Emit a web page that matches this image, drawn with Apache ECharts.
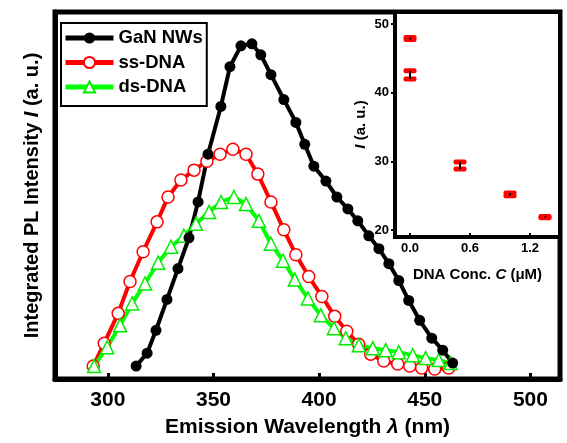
<!DOCTYPE html>
<html>
<head>
<meta charset="utf-8">
<script src="https://cdn.jsdelivr.net/npm/echarts@6/dist/echarts.min.js"></script>
<style>
  html, body { margin: 0; padding: 0; background: #fff; }
  #chart { width: 567px; height: 443px; }
</style>
</head>
<body>
<div id="chart"></div>
<script>
// PL spectra (wavelength in nm, intensity in a.u.)
const wlGaN = [313.4, 318.6, 322.8, 328.0, 333.2, 338.4, 342.7, 347.4, 353.5, 357.8, 363.0, 368.2, 372.4, 377.2, 383.3, 389.0, 393.2, 397.5, 403.2, 408.4, 413.6, 418.3, 423.5, 428.3, 433.0, 437.7, 442.4, 447.6, 453.3, 458.5, 463.2]
const intGaN = [13, 26, 49, 80, 111, 142, 178, 226, 274, 314, 335, 337, 326, 306, 281, 258, 236, 214, 199, 183, 171, 159, 144, 131, 116, 99, 79, 59, 41, 29, 16]

const wlSS = [293.1, 298.3, 304.9, 310.5, 316.7, 323.3, 328.5, 334.6, 340.8, 346.9, 353.1, 359.2, 365.4, 371.0, 377.2, 383.3, 389.0, 395.1, 401.3, 407.4, 413.1, 418.7, 424.4, 430.6, 437.2, 442.9, 448.5, 454.7, 461.3]
const intSS = [13, 36, 66, 98, 128, 158, 183, 200, 210, 219, 226, 231, 226, 206, 178, 150, 125, 103, 83, 63, 48, 35, 25, 18, 15, 13, 11, 10, 11]

const wlDS = [293.5, 299.7, 305.8, 311.5, 317.6, 323.8, 329.9, 336.0, 341.7, 347.9, 353.6, 359.7, 365.4, 371.5, 377.2, 382.9, 388.5, 394.7, 400.8, 407.0, 412.6, 418.8, 425.4, 431.5, 437.7, 444.3, 450.4, 456.6, 462.2]
const intDS = [13, 32, 54, 76, 96, 117, 133, 144, 156, 168, 178, 183, 176, 159, 136, 119, 100, 81, 64, 51, 41, 34, 31, 29, 27, 24, 21, 19, 16]

// inset: intensity vs DNA concentration
const conc = [0, 0, 0.5, 1.0, 1.35]
const concInt = [47.9, 42.6, 29.4, 25.2, 21.9]
const concErr = [0.15, 0.6, 0.5, 0.2, 0.1]

const xTicks = [300, 350, 400, 450, 500]
const insetYTicks = [20, 30, 40, 50]
const insetXTicks = [0, 0.6, 1.2]

const pairs = (xs, ys) => xs.map((x, i) => [x, ys[i]])

const chart = echarts.init(document.getElementById('chart'))
const font = 'Arial, "Liberation Sans", sans-serif'

const option = {
  animation: false,
  textStyle: { fontFamily: font, color: '#000' },
  legend: {
    data: ['GaN NWs', 'ss-DNA', 'ds-DNA'],
    orient: 'vertical',
    left: 61,
    top: 23,
    padding: [5, 4, 9, 2],
    itemWidth: 48,
    itemHeight: 14,
    itemGap: 4.5,
    borderColor: '#000',
    borderWidth: 2,
    lineStyle: { width: 5 },
    textStyle: { fontSize: 18.5, fontWeight: 'bold', color: '#000', lineHeight: 20, fontFamily: font }
  },
  grid: [
    { left: 55, right: 7, top: 12, bottom: 62, show: true, borderColor: '#000', borderWidth: 5, backgroundColor: 'transparent' },
    { left: 395, right: 7, top: 12, bottom: 206, show: true, borderColor: '#000', borderWidth: 4, backgroundColor: '#fff', z: 5 }
  ],
  xAxis: [
    {
      type: 'value', gridIndex: 0, min: 275, max: 514,
      splitLine: { show: false },
      axisLine: { onZero: false, lineStyle: { color: '#000', width: 5 } },
      axisTick: { inside: true, length: 6, lineStyle: { width: 3, color: '#000' }, customValues: xTicks },
      axisLabel: { customValues: xTicks, fontSize: 21, fontWeight: 'bold', color: '#000', margin: 11 },
      name: 'Emission Wavelength {i|λ} (nm)',
      nameLocation: 'middle',
      nameGap: 38,
      nameTextStyle: {
        fontSize: 21, fontWeight: 'bold', color: '#000',
        rich: { i: { fontSize: 21, fontWeight: 'bold', fontStyle: 'italic', color: '#000' } }
      }
    },
    {
      type: 'value', gridIndex: 1, min: -0.15, max: 1.5,
      splitLine: { show: false },
      axisLine: { onZero: false, lineStyle: { color: '#000', width: 4 } },
      axisTick: { inside: true, length: 4, lineStyle: { width: 2, color: '#000' }, customValues: insetXTicks },
      axisLabel: { customValues: insetXTicks, fontSize: 13, fontWeight: 'bold', color: '#000', margin: 5, formatter: v => v.toFixed(1) },
      name: 'DNA Conc. {i|C} (μM)',
      nameLocation: 'middle',
      nameGap: 30,
      nameTextStyle: {
        fontSize: 15, fontWeight: 'bold', color: '#000',
        rich: { i: { fontSize: 15, fontWeight: 'bold', fontStyle: 'italic', color: '#000' } }
      },
      z: 6
    }
  ],
  yAxis: [
    {
      type: 'value', gridIndex: 0, min: 0, max: 369,
      splitLine: { show: false },
      axisLine: { show: true, onZero: false, lineStyle: { color: '#000', width: 5 } },
      axisTick: { show: false },
      axisLabel: { show: false },
      name: 'Integrated PL Intensity {i|I} (a. u.)',
      nameLocation: 'middle',
      nameGap: 13,
      nameTextStyle: {
        fontSize: 20, fontWeight: 'bold', color: '#000',
        rich: { i: { fontSize: 20, fontWeight: 'bold', fontStyle: 'italic', color: '#000' } }
      }
    },
    {
      type: 'value', gridIndex: 1, min: 19, max: 51.75,
      splitLine: { show: false },
      axisLine: { show: true, onZero: false, lineStyle: { color: '#000', width: 4 } },
      axisTick: { inside: false, length: 4, lineStyle: { width: 2, color: '#000' }, customValues: insetYTicks },
      axisLabel: { customValues: insetYTicks, fontSize: 13, fontWeight: 'bold', color: '#000', margin: 6, align: 'right' },
      name: '{i|I} (a. u.)',
      nameLocation: 'middle',
      nameGap: 27,
      nameTextStyle: {
        fontSize: 15, fontWeight: 'bold', color: '#000',
        rich: { i: { fontSize: 15, fontWeight: 'bold', fontStyle: 'italic', color: '#000' } }
      },
      z: 6
    }
  ],
  series: [
    {
      name: 'ss-DNA', type: 'line', xAxisIndex: 0, yAxisIndex: 0,
      data: pairs(wlSS, intSS),
      lineStyle: { color: '#ff0000', width: 4 },
      symbol: 'circle', symbolSize: 12, showAllSymbol: true,
      itemStyle: { color: '#fff', borderColor: '#ff0000', borderWidth: 1.5 }
    },
    {
      name: 'ds-DNA', type: 'line', xAxisIndex: 0, yAxisIndex: 0,
      data: pairs(wlDS, intDS),
      lineStyle: { color: '#00ff00', width: 4 },
      symbol: 'triangle', symbolSize: 13, showAllSymbol: true,
      itemStyle: { color: '#fff', borderColor: '#00ee00', borderWidth: 1.5 }
    },
    {
      name: 'GaN NWs', type: 'line', xAxisIndex: 0, yAxisIndex: 0,
      data: pairs(wlGaN, intGaN),
      lineStyle: { color: '#000', width: 4 },
      symbol: 'circle', symbolSize: 11, showAllSymbol: true,
      itemStyle: { color: '#000', borderColor: '#000', borderWidth: 0 }
    },
    {
      type: 'custom', xAxisIndex: 1, yAxisIndex: 1, z: 10,
      data: conc.map((c, i) => [c, concInt[i], concInt[i] - concErr[i], concInt[i] + concErr[i]]),
      renderItem: (params, api) => {
        const x = api.coord([api.value(0), api.value(1)])[0]
        const lo = api.coord([api.value(0), api.value(2)])[1]
        const hi = api.coord([api.value(0), api.value(3)])[1]
        const w = 13
        return {
          type: 'group',
          children: [
            { type: 'rect', shape: { x: x - w / 2, y: hi - 2.5, width: w, height: 5, r: 2 }, style: { fill: '#ff0000' } },
            { type: 'rect', shape: { x: x - w / 2, y: lo - 2.5, width: w, height: 5, r: 2 }, style: { fill: '#ff0000' } },
            { type: 'line', shape: { x1: x, y1: hi, x2: x, y2: lo }, style: { stroke: '#000', lineWidth: 2 } }
          ]
        }
      }
    }
  ]
}

chart.setOption(option)
</script>
</body>
</html>
